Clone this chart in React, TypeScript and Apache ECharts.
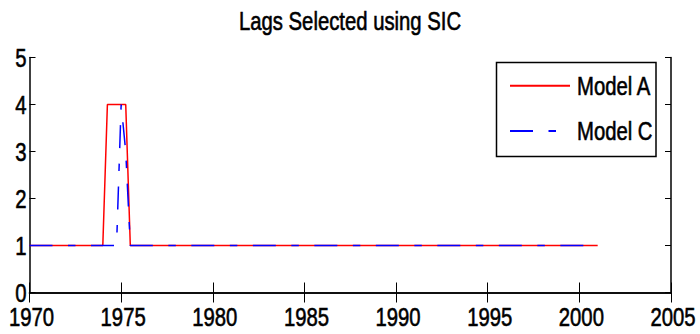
import React, { useEffect, useRef } from "react";
import * as echarts from "echarts";

// Lag orders chosen by SIC, sampled at the points where the selection changes
const yearsA = [1970, 1974, 1974.25, 1975.25, 1975.5, 2001];
const lagsA = [1, 1, 4, 4, 1, 1];
const yearsC = [1970, 1974.75, 1975, 1975.25, 1975.5, 2001];
const lagsC = [1, 1, 4, 3, 1, 1];

const seriesNames = ["Model A", "Model C"];
const xTicks = { min: 1970, max: 2005, interval: 5 };
const yTicks = { min: 0, max: 5, interval: 1 };

const FONT = "'Liberation Sans', Arial, Helvetica, sans-serif";
const FONT_SIZE = 26;
// horizontal squeeze applied to every label (condensed Helvetica look)
const SQUEEZE = 0.78;

function condenseTexts(root: HTMLElement | null) {
  if (!root) return;
  root.querySelectorAll("text").forEach((node) => {
    const t = node as SVGTextElement;
    if (t.getAttribute("textLength")) return;
    const len = t.getComputedTextLength();
    if (!len) return;
    t.setAttribute("textLength", String(len * SQUEEZE));
    t.setAttribute("lengthAdjust", "spacingAndGlyphs");
  });
}

export default function App() {
  const ref = useRef<HTMLDivElement>(null);

  useEffect(() => {
    if (!ref.current) return;
    const chart = echarts.init(ref.current, undefined, { renderer: "svg" });

    const pairs = (xs: number[], ys: number[]) => xs.map((x, i) => [x, ys[i]]);
    const axisLine = { show: true, lineStyle: { color: "#000", width: 1.5 } };
    const labelStyle = {
      fontFamily: FONT,
      fontSize: FONT_SIZE,
      color: "#000",
      textBorderColor: "#000",
      textBorderWidth: 0.6,
    };

    chart.setOption({
      animation: false,
      backgroundColor: "#fff",
      title: {
        text: "Lags Selected using SIC",
        left: "center",
        top: 3,
        textStyle: { ...labelStyle, fontWeight: "normal" },
      },
      grid: {
        left: 29.5,
        right: 29,
        top: 57.5,
        bottom: 41.5,
        containLabel: false,
        outerBoundsMode: "none",
      },
      graphic: [
        {
          type: "rect",
          z: 3,
          shape: { x: 496.5, y: 62.5, width: 159.5, height: 94 },
          style: { fill: "#fff", stroke: "#000", lineWidth: 1.5 },
        },
      ],
      legend: {
        left: 509,
        top: 72.5,
        orient: "vertical",
        itemWidth: 60,
        itemHeight: 14,
        itemGap: 18.5,
        padding: 0,
        itemStyle: { opacity: 0 },
        textStyle: { ...labelStyle, padding: [0, 0, 0, 2] },
        data: seriesNames,
      },
      xAxis: [
        {
          type: "value",
          min: xTicks.min,
          max: xTicks.max,
          interval: xTicks.interval,
          position: "bottom",
          axisLine,
          axisTick: { show: true, inside: true, length: 10, lineStyle: { color: "#000", width: 1 } },
          axisLabel: {
            ...labelStyle,
            lineHeight: 20,
            margin: 14.5,
            padding: [0, 0, 0, 4],
            formatter: (v: number) => String(v),
          },
          splitLine: { show: false },
        },
        {
          type: "value",
          min: xTicks.min,
          max: xTicks.max,
          interval: xTicks.interval,
          position: "top",
          axisLine,
          axisTick: { show: true, inside: true, length: 10, lineStyle: { color: "#000", width: 1 } },
          axisLabel: { show: false },
          splitLine: { show: false },
        },
      ],
      yAxis: [
        {
          type: "value",
          min: yTicks.min,
          max: yTicks.max,
          interval: yTicks.interval,
          position: "left",
          axisLine,
          axisTick: { show: true, inside: true, length: 6, lineStyle: { color: "#000", width: 1 } },
          axisLabel: { ...labelStyle, lineHeight: 20, margin: 3 },
          splitLine: { show: false },
        },
        {
          type: "value",
          min: yTicks.min,
          max: yTicks.max,
          interval: yTicks.interval,
          position: "right",
          axisLine,
          axisTick: { show: true, inside: true, length: 6, lineStyle: { color: "#000", width: 1 } },
          axisLabel: { show: false },
          splitLine: { show: false },
        },
      ],
      series: [
        {
          name: seriesNames[0],
          type: "line",
          xAxisIndex: 0,
          yAxisIndex: 0,
          symbol: "none",
          data: pairs(yearsA, lagsA),
          lineStyle: { color: "#ff0000", width: 1.5 },
          itemStyle: { color: "#ff0000" },
        },
        {
          name: seriesNames[1],
          type: "line",
          xAxisIndex: 0,
          yAxisIndex: 0,
          symbol: "none",
          data: pairs(yearsC, lagsC),
          lineStyle: { color: "#0000ff", width: 1.5, type: [23, 15.5, 7.5, 15.5] },
          itemStyle: { color: "#0000ff" },
        },
      ],
    });

    const condense = () => condenseTexts(ref.current);
    condense();
    chart.on("finished", condense);

    return () => chart.dispose();
  }, []);

  return (
    <div
      ref={ref}
      style={{ position: "fixed", left: 0, top: 0, width: 700, height: 334, background: "#fff" }}
    />
  );
}
